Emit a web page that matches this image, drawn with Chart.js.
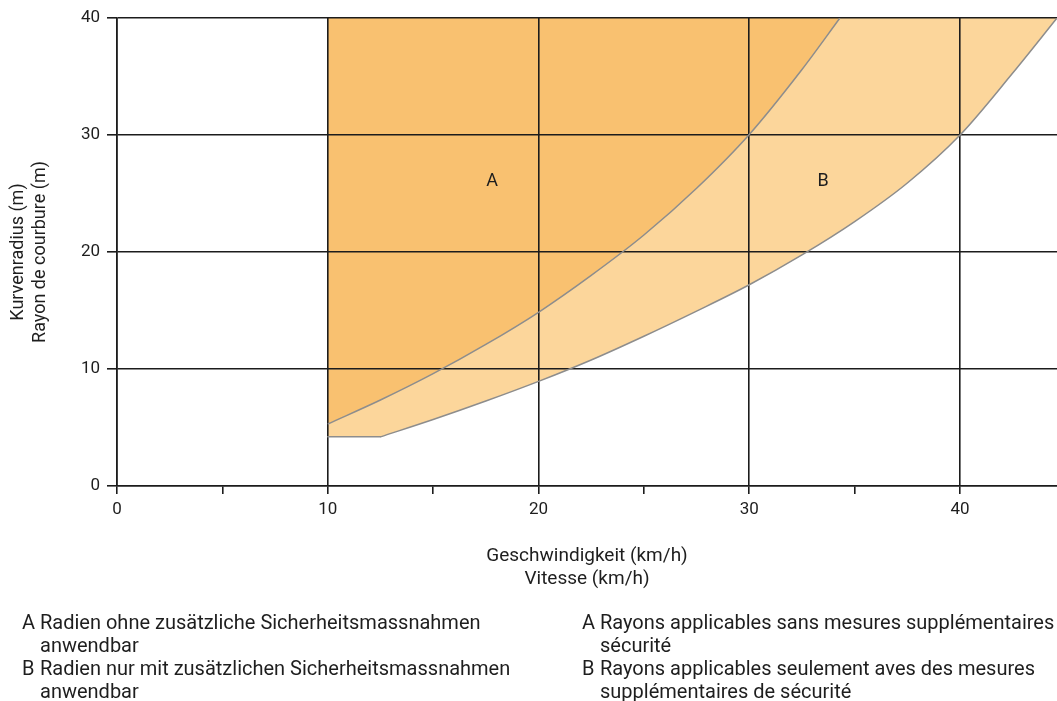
<!DOCTYPE html>
<html>
<head>
<meta charset="utf-8">
<script src="https://cdn.jsdelivr.net/npm/chart.js@4/dist/chart.umd.min.js"></script>
<style>
  html, body { margin: 0; padding: 0; background: #fff; overflow: hidden; }
  #wrap { position: relative; width: 1057px; height: 701px; }
  canvas { position: absolute; left: 0; top: 0; }
  .leg { position: absolute; font-family: Roboto, sans-serif; font-size: 20px; line-height: 23px; color: #1e1e1e; white-space: nowrap; }
  .leg .k { position: absolute; left: 0; }
  .leg .t { position: absolute; }
</style>
</head>
<body>
<div id="wrap">
  <canvas id="c" width="1057" height="701"></canvas>
</div>
<script>
// ---- data ----
const xTicks = [0, 5, 10, 15, 20, 25, 30, 35, 40];
const yTicks = [0, 10, 20, 30, 40];
const xTitle = ['Geschwindigkeit (km/h)', 'Vitesse (km/h)'];
const yTitle = ['Kurvenradius (m)', 'Rayon de courbure (m)'];

// boundary between zone A and zone B
const curveAX = [10, 12.5, 15, 17.5, 20, 22.5, 25, 27.5, 30, 32.5, 34.3];
const curveAY = [5.3, 7.35, 9.6, 12.1, 14.85, 18.0, 21.45, 25.45, 30.05, 35.6, 40];
// lower boundary of zone B: flat start ...
const flatBX = [10, 12.5];
const flatBY = [4.2, 4.2];
// ... then the curve
const curveBX = [12.5, 15, 17.5, 20, 22.5, 25, 27.5, 30, 32.5, 35, 37.5, 40, 42.5, 44.6];
const curveBY = [4.2, 5.68, 7.26, 8.94, 10.77, 12.8, 14.95, 17.2, 19.75, 22.6, 25.9, 30, 35.3, 40];

const regionNames = ['A', 'B'];
const regionX = [17.8, 33.5];
const regionY = [26, 26];

const legendLeft = [
  ['A', 'Radien ohne zusätzliche Sicherheitsmassnahmen', 'anwendbar'],
  ['B', 'Radien nur mit zusätzlichen Sicherheitsmassnahmen', 'anwendbar']
];
const legendRight = [
  ['A', 'Rayons applicables sans mesures supplémentaires', 'sécurité'],
  ['B', 'Rayons applicables seulement aves des mesures', 'supplémentaires de sécurité']
];

// ---- styles ----
const FONT = 'Roboto, sans-serif';
const TXT = '#1e1e1e';
const GRID = '#1c1c1c';
const COL_A = 'rgb(249,193,112)';
const COL_B = 'rgb(252,214,155)';
const EDGE = '#8d8d8d';

const pts = (xs, ys) => xs.map((x, i) => ({ x: x, y: ys[i] }));
// flat part and curve joined with a break, so the corner stays sharp
const boundaryB = pts(flatBX, flatBY).concat([{ x: flatBX[flatBX.length - 1], y: null }], pts(curveBX, curveBY));
// same points without the break (straight segments) to back the fill
const boundaryBPlain = pts(flatBX, flatBY).concat(pts(curveBX, curveBY));

const regionLabelPlugin = {
  id: 'regionLabels',
  afterDatasetsDraw(chart) {
    const ctx = chart.ctx;
    const xs = chart.scales.x, ys = chart.scales.y;
    ctx.save();
    ctx.font = '18px ' + FONT;
    ctx.fillStyle = TXT;
    ctx.textAlign = 'center';
    ctx.textBaseline = 'middle';
    regionNames.forEach((n, i) => {
      ctx.fillText(n, xs.getPixelForValue(regionX[i]), ys.getPixelForValue(regionY[i]));
    });
    ctx.restore();
  }
};

new Chart(document.getElementById('c'), {
  type: 'line',
  data: {
    datasets: [
      {
        label: 'A', data: pts(curveAX, curveAY),
        borderColor: EDGE, borderWidth: 1.5, backgroundColor: COL_A,
        fill: { target: { value: 40 } }, pointRadius: 0,
        cubicInterpolationMode: 'monotone'
      },
      {
        label: 'B', data: boundaryB,
        borderColor: EDGE, borderWidth: 1.5, borderCapStyle: 'round', backgroundColor: COL_B,
        fill: { target: { value: 40 } }, pointRadius: 0, spanGaps: false,
        cubicInterpolationMode: 'monotone'
      },
      {
        label: 'B base', data: boundaryBPlain,
        borderWidth: 0, borderColor: 'rgba(0,0,0,0)', backgroundColor: COL_B,
        fill: { target: { value: 40 } }, pointRadius: 0, tension: 0
      }
    ]
  },
  options: {
    responsive: false,
    animation: false,
    events: [],
    layout: { padding: { left: 0, top: 18, right: 0, bottom: 110 } },
    plugins: {
      legend: { display: false },
      tooltip: { enabled: false },
      filler: { drawTime: 'beforeDraw' }
    },
    scales: {
      x: {
        type: 'linear', min: 0, max: 44.6,
        afterBuildTicks: s => { s.ticks = xTicks.map(v => ({ value: v })); },
        afterFit: s => { s.height = 105; },
        ticks: {
          callback: v => (v % 10 === 0 ? String(v) : ''),
          font: { family: FONT, size: 17 }, color: TXT, padding: 6, maxRotation: 0, autoSkip: false
        },
        grid: {
          color: c => (c.tick && c.tick.value % 10 === 0 ? GRID : 'rgba(0,0,0,0)'),
          tickColor: GRID, lineWidth: 1.6, tickLength: 8, drawTicks: true
        },
        border: { display: true, color: GRID, width: 1.6 },
        title: {
          display: true, text: xTitle, color: TXT,
          font: { family: FONT, size: 19, lineHeight: '23px' },
          padding: { top: 0, bottom: 0 }
        }
      },
      y: {
        type: 'linear', min: 0, max: 40,
        afterBuildTicks: s => { s.ticks = yTicks.map(v => ({ value: v })); },
        afterFit: s => { s.width = 117; },
        ticks: { font: { family: FONT, size: 17 }, color: TXT, padding: 7 },
        grid: { color: GRID, tickColor: GRID, lineWidth: 1.6, tickLength: 10 },
        border: { display: true, color: GRID, width: 1.6 },
        title: {
          display: true, text: yTitle, color: TXT,
          font: { family: FONT, size: 18, lineHeight: '22px' },
          padding: { top: 7, bottom: 0 }
        }
      }
    }
  },
  plugins: [regionLabelPlugin]
});

// ---- legend text below the chart ----
const wrap = document.getElementById('wrap');
function addLegend(items, left, textOffset) {
  items.forEach((it, i) => {
    const d = document.createElement('div');
    d.className = 'leg';
    d.style.left = left + 'px';
    d.style.top = (611 + i * 46) + 'px';
    d.innerHTML = '<span class="k"></span><span class="t"></span>';
    d.querySelector('.k').textContent = it[0];
    const t = d.querySelector('.t');
    t.style.left = textOffset + 'px';
    t.textContent = it[1];
    t.appendChild(document.createElement('br'));
    t.appendChild(document.createTextNode(it[2]));
    wrap.appendChild(d);
  });
}
addLegend(legendLeft, 22, 18);
addLegend(legendRight, 582, 18);
</script>
</body>
</html>
